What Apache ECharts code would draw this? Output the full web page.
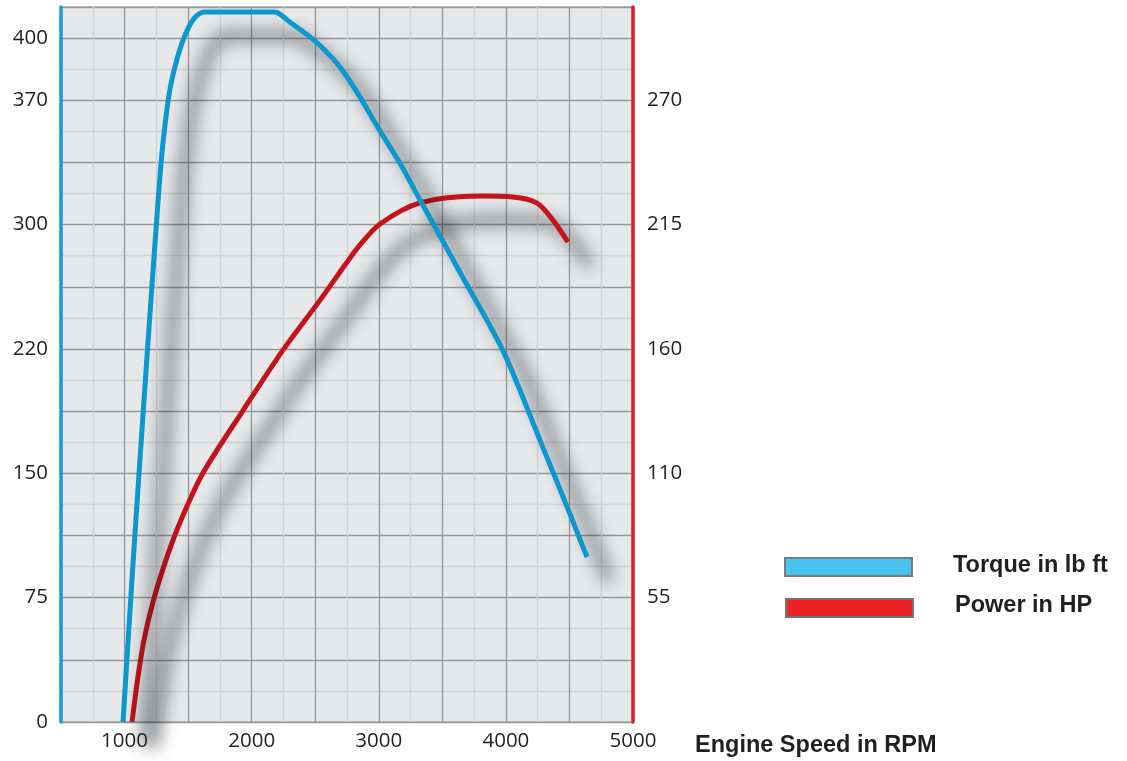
<!DOCTYPE html>
<html>
<head>
<meta charset="utf-8">
<script src="https://cdn.jsdelivr.net/npm/echarts@6/dist/echarts.min.js"></script>
<style>
html,body{margin:0;padding:0;background:#fff;}
#chart{width:1127px;height:761px;}
</style>
</head>
<body>
<div id="chart"></div>
<script>
// ---- data ----
const torqueRpm = [988, 1066, 1153, 1208, 1255, 1287, 1318, 1358, 1413, 1483, 1554, 1633, 2160, 2199, 2302, 2420, 2538, 2695, 2836, 2986, 3167, 3324, 3655, 3977, 4268, 4504, 4638];
const torqueValues = [0, 95, 194, 255, 305, 337, 360, 382, 400, 415.5, 425, 428.3, 428.3, 428, 422, 415.5, 408, 395, 379, 359.5, 337, 315, 269, 224, 170, 125.5, 99.5];
const powerRpm = [1059, 1102, 1153, 1228, 1326, 1444, 1617, 1924, 2246, 2538, 2734, 2852, 3010, 3324, 3796, 4056, 4245, 4370, 4488];
const powerValues = [0, 18.6, 36.3, 54, 71.7, 89.3, 110.1, 137.1, 164.5, 186.6, 202.1, 211, 220.3, 229.6, 232.6, 232.2, 229.5, 222, 212.3];

const xTickValues = [1000, 2000, 3000, 4000, 5000];
const xTickLabels = ['1000', '2000', '3000', '4000', '5000'];
const leftTickValues = [0, 75, 150, 225, 300, 375, 412.5];
const leftTickLabels = ['0', '75', '150', '220', '300', '370', '400'];
const rightTickValues = [55, 110, 165, 220, 275];
const rightTickLabels = ['55', '110', '160', '215', '270'];

const seriesNames = ['Torque in lb ft', 'Power in HP'];
const xAxisTitle = 'Engine Speed in RPM';

function pick(values, labels) {
  return function (v) {
    for (let i = 0; i < values.length; i++) {
      if (Math.abs(values[i] - v) < 0.01) return labels[i];
    }
    return '';
  };
}
function pairs(xs, ys) { return xs.map((x, i) => [x, ys[i]]); }

const chart = echarts.init(document.getElementById('chart'));
const tickFont = { fontFamily: 'Open Sans', fontSize: 20.5, color: '#231f20' };
const shadow = { shadowBlur: 17, shadowColor: 'rgba(15,20,25,1)', shadowOffsetX: 22, shadowOffsetY: 24 };
const boldFont = 'bold 23.5px "Liberation Sans", Arial, sans-serif';

chart.setOption({
  animation: false,
  grid: {
    left: 61, right: 494, top: 7, bottom: 39,
    show: true, backgroundColor: '#e6e8ea', borderColor: '#8d8f92', borderWidth: 1
  },
  xAxis: {
    type: 'value', min: 500, max: 5000, interval: 500,
    axisLine: { show: false },
    axisTick: { show: false },
    axisLabel: Object.assign({ margin: 9, formatter: pick(xTickValues, xTickLabels), showMinLabel: false }, tickFont),
    splitLine: { show: true, lineStyle: { color: '#96989b', width: 1.3 } },
    minorTick: { show: false, splitNumber: 2 },
    minorSplitLine: { show: true, lineStyle: { color: '#d0d2d4', width: 1.3 } }
  },
  yAxis: [
    {
      type: 'value', min: 0, max: 431.25, interval: 37.5,
      axisLine: { show: true, lineStyle: { color: '#1a9ad6', width: 3.5 } },
      axisTick: { show: false },
      axisLabel: Object.assign({ margin: 13, formatter: pick(leftTickValues, leftTickLabels) }, tickFont),
      splitLine: { show: true, lineStyle: { color: '#96989b', width: 1.3 } },
      minorTick: { show: false, splitNumber: 2 },
      minorSplitLine: { show: true, lineStyle: { color: '#d0d2d4', width: 1.3 } }
    },
    {
      type: 'value', min: 0, max: 316.25, interval: 27.5, position: 'right',
      axisLine: { show: true, lineStyle: { color: '#d2232a', width: 3.5 } },
      axisTick: { show: false },
      axisLabel: Object.assign({ margin: 14, formatter: pick(rightTickValues, rightTickLabels) }, tickFont),
      splitLine: { show: false }
    }
  ],
  series: [
    {
      name: seriesNames[0], type: 'line', yAxisIndex: 0, clip: false,
      data: pairs(torqueRpm, torqueValues),
      smooth: 0.3, symbol: 'none',
      lineStyle: Object.assign({ color: '#0a98cf', width: 5 }, shadow),
      z: 3
    },
    {
      name: seriesNames[1], type: 'line', yAxisIndex: 1, clip: false,
      data: pairs(powerRpm, powerValues),
      smooth: 0.3, symbol: 'none',
      lineStyle: Object.assign({ color: '#c4131c', width: 5 }, shadow),
      z: 2
    }
  ],
  graphic: [
    { type: 'rect', left: 784, top: 557, shape: { width: 127, height: 18 },
      style: { fill: '#48c4f0', stroke: '#737c82', lineWidth: 2 } },
    { type: 'rect', left: 785, top: 598, shape: { width: 127, height: 18 },
      style: { fill: '#ec2227', stroke: '#737373', lineWidth: 2 } },
    { type: 'text', x: 953, y: 566,
      style: { text: seriesNames[0], font: boldFont, fill: '#231f20', textVerticalAlign: 'middle' } },
    { type: 'text', x: 955, y: 606,
      style: { text: seriesNames[1], font: boldFont, fill: '#231f20', textVerticalAlign: 'middle' } },
    { type: 'text', x: 695, y: 746,
      style: { text: xAxisTitle, font: boldFont, fill: '#231f20', textVerticalAlign: 'middle' } }
  ]
});
</script>
</body>
</html>
